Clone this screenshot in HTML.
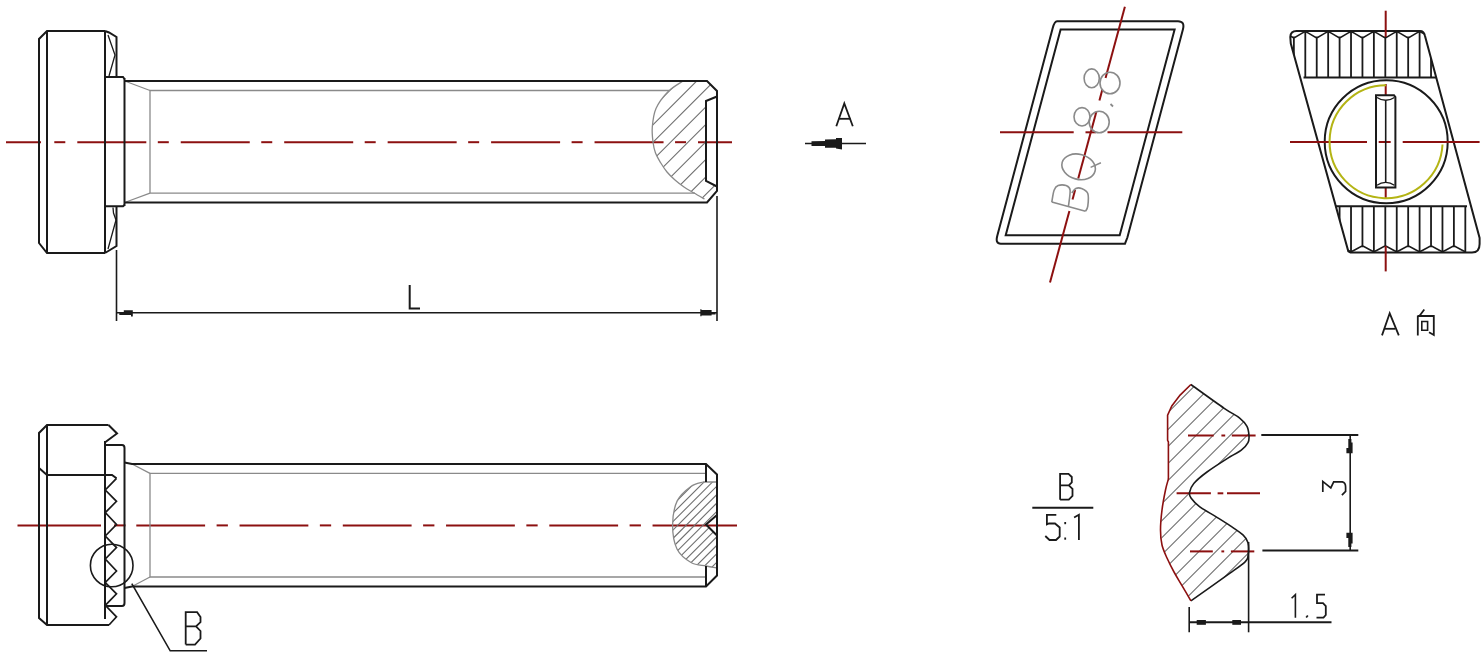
<!DOCTYPE html>
<html><head><meta charset="utf-8"><style>
html,body{margin:0;padding:0;background:#fff;width:1484px;height:657px;overflow:hidden;font-family:"Liberation Sans",sans-serif;}
svg{display:block;}
</style></head><body>
<svg width="1484" height="657" viewBox="0 0 1484 657" stroke-linecap="butt">
<rect width="1484" height="657" fill="#fff"/>
<line x1="6" y1="142.2" x2="41" y2="142.2" stroke="#8c1010" stroke-width="2" />
<line x1="54.3" y1="142.2" x2="65.3" y2="142.2" stroke="#8c1010" stroke-width="2" />
<line x1="77.3" y1="142.2" x2="146.3" y2="142.2" stroke="#8c1010" stroke-width="2" />
<line x1="157.8" y1="142.2" x2="168.8" y2="142.2" stroke="#8c1010" stroke-width="2" />
<line x1="180.75" y1="142.2" x2="249.75" y2="142.2" stroke="#8c1010" stroke-width="2" />
<line x1="261.25" y1="142.2" x2="272.25" y2="142.2" stroke="#8c1010" stroke-width="2" />
<line x1="284.2" y1="142.2" x2="353.2" y2="142.2" stroke="#8c1010" stroke-width="2" />
<line x1="364.7" y1="142.2" x2="375.7" y2="142.2" stroke="#8c1010" stroke-width="2" />
<line x1="387.65" y1="142.2" x2="456.65" y2="142.2" stroke="#8c1010" stroke-width="2" />
<line x1="468.15" y1="142.2" x2="479.15" y2="142.2" stroke="#8c1010" stroke-width="2" />
<line x1="491.09999999999997" y1="142.2" x2="560.0999999999999" y2="142.2" stroke="#8c1010" stroke-width="2" />
<line x1="571.5999999999999" y1="142.2" x2="582.5999999999999" y2="142.2" stroke="#8c1010" stroke-width="2" />
<line x1="594.55" y1="142.2" x2="663.55" y2="142.2" stroke="#8c1010" stroke-width="2" />
<line x1="675.05" y1="142.2" x2="686.05" y2="142.2" stroke="#8c1010" stroke-width="2" />
<line x1="698.0" y1="142.2" x2="732" y2="142.2" stroke="#8c1010" stroke-width="2" />
<clipPath id="ct"><path d="M683,81 C680.50,82.78 672.50,87.12 668,91.7 C663.50,96.28 658.62,102.62 656,108.5 C653.38,114.38 652.80,121.42 652.3,127 C651.80,132.58 652.47,137.67 653,142 C653.53,146.33 654.25,149.58 655.5,153 C656.75,156.42 658.58,159.33 660.5,162.5 C662.42,165.67 664.58,169.08 667,172 C669.42,174.92 672.17,177.50 675,180 C677.83,182.50 680.83,184.83 684,187 C687.17,189.17 690.58,191.00 694,193 C697.42,195.00 702.75,198.00 704.5,199 L707,202.5 L717,191 L717,186.5 L706,181 L706,101 L717,96.5 L717,91 L707,81 Z"/></clipPath>
<g clip-path="url(#ct)">
<line x1="497.70000000000005" y1="210" x2="632.7" y2="75" stroke="#6e6e6e" stroke-width="1.1"/>
<line x1="515.2" y1="210" x2="650.2" y2="75" stroke="#6e6e6e" stroke-width="1.1"/>
<line x1="532.7" y1="210" x2="667.7" y2="75" stroke="#6e6e6e" stroke-width="1.1"/>
<line x1="550.2" y1="210" x2="685.2" y2="75" stroke="#6e6e6e" stroke-width="1.1"/>
<line x1="567.7" y1="210" x2="702.7" y2="75" stroke="#6e6e6e" stroke-width="1.1"/>
<line x1="585.2" y1="210" x2="720.2" y2="75" stroke="#6e6e6e" stroke-width="1.1"/>
<line x1="602.7" y1="210" x2="737.7" y2="75" stroke="#6e6e6e" stroke-width="1.1"/>
<line x1="620.2" y1="210" x2="755.2" y2="75" stroke="#6e6e6e" stroke-width="1.1"/>
<line x1="637.7" y1="210" x2="772.7" y2="75" stroke="#6e6e6e" stroke-width="1.1"/>
<line x1="655.2" y1="210" x2="790.2" y2="75" stroke="#6e6e6e" stroke-width="1.1"/>
<line x1="672.7" y1="210" x2="807.7" y2="75" stroke="#6e6e6e" stroke-width="1.1"/>
<line x1="690.2" y1="210" x2="825.2" y2="75" stroke="#6e6e6e" stroke-width="1.1"/>
<line x1="707.7" y1="210" x2="842.7" y2="75" stroke="#6e6e6e" stroke-width="1.1"/>
<line x1="725.2" y1="210" x2="860.2" y2="75" stroke="#6e6e6e" stroke-width="1.1"/>
</g>
<path d="M683,81 C680.50,82.78 672.50,87.12 668,91.7 C663.50,96.28 658.62,102.62 656,108.5 C653.38,114.38 652.80,121.42 652.3,127 C651.80,132.58 652.47,137.67 653,142 C653.53,146.33 654.25,149.58 655.5,153 C656.75,156.42 658.58,159.33 660.5,162.5 C662.42,165.67 664.58,169.08 667,172 C669.42,174.92 672.17,177.50 675,180 C677.83,182.50 680.83,184.83 684,187 C687.17,189.17 690.58,191.00 694,193 C697.42,195.00 702.75,198.00 704.5,199" fill="none" stroke="#8a8a8a" stroke-width="1.3" />
<path d="M669,90.5 L150,90.5 L150,193.2 L695,193.2" fill="none" stroke="#8a8a8a" stroke-width="1.3" stroke-linejoin="miter" />
<line x1="126" y1="81.5" x2="150" y2="90.5" stroke="#8a8a8a" stroke-width="1.3" />
<line x1="126" y1="202" x2="150" y2="193.2" stroke="#8a8a8a" stroke-width="1.3" />
<path d="M105,31 L47,31 L39,39 L39,243 L47,253 L105,253" fill="none" stroke="#1a1a1a" stroke-width="2" stroke-linejoin="miter" />
<line x1="47" y1="31" x2="47" y2="253" stroke="#1a1a1a" stroke-width="2" />
<line x1="105" y1="31" x2="105" y2="253" stroke="#1a1a1a" stroke-width="2" />
<path d="M105,31 L109,32.5 L116.5,37 L116.5,76" fill="none" stroke="#1a1a1a" stroke-width="2" stroke-linejoin="miter" />
<path d="M108,35 L115,55 L109,76" fill="none" stroke="#1a1a1a" stroke-width="1.3" stroke-linejoin="miter" />
<path d="M105,77 L123,77 L124.5,79" fill="none" stroke="#1a1a1a" stroke-width="2" stroke-linejoin="miter" />
<line x1="124.5" y1="78" x2="124.5" y2="206" stroke="#1a1a1a" stroke-width="2" />
<path d="M105,206.3 L123,206.3 L124.5,205" fill="none" stroke="#1a1a1a" stroke-width="2" stroke-linejoin="miter" />
<path d="M116.5,207 L116.5,246 L105,253" fill="none" stroke="#1a1a1a" stroke-width="2" stroke-linejoin="miter" />
<path d="M113,207.5 L113.5,213 L116,220 L108,249" fill="none" stroke="#1a1a1a" stroke-width="1.3" stroke-linejoin="miter" />
<path d="M124.5,81 L707,81 L717,91 L717,191 L707,202.5 L124.5,202.5" fill="none" stroke="#1a1a1a" stroke-width="2" stroke-linejoin="miter" />
<path d="M717,96.5 L706,101 L706,181 L717,186.5" fill="none" stroke="#1a1a1a" stroke-width="2" stroke-linejoin="miter" />
<line x1="116.5" y1="250" x2="116.5" y2="321" stroke="#1a1a1a" stroke-width="1.6" />
<line x1="717" y1="196" x2="717" y2="321" stroke="#1a1a1a" stroke-width="1.6" />
<line x1="116.5" y1="312.8" x2="717" y2="312.8" stroke="#1a1a1a" stroke-width="1.6" />
<path d="M119.3,312 L123.8,312 L123.8,310.3 L132.8,310.3 L132.8,316.5 L131,316.5 L131,315 L119.3,315 Z" fill="#1a1a1a" stroke="#1a1a1a" stroke-width="0" />
<path d="M700.3,309.2 L701.5,309.2 L701.5,310.1 L711.6,310.1 L711.6,312 L715.5,312 L715.5,314.5 L711.6,314.5 L711.6,315.5 L701.5,315.5 L701.5,316.3 L700.3,316.3 Z" fill="#1a1a1a" stroke="#1a1a1a" stroke-width="0" />
<path d="M409.7,285 L409.7,308.5 L420,308.5" fill="none" stroke="#1a1a1a" stroke-width="2" stroke-linejoin="miter" />
<line x1="805" y1="143.5" x2="866" y2="143.5" stroke="#1a1a1a" stroke-width="1.6" />
<path d="M811.5,141.2 L825,141 L825,139.5 L836,139.3 L836,138 L842,138 L842,149.5 L836,148.5 L836,147.8 L825,147.8 L825,146 L811.5,146 Z" fill="#1a1a1a" stroke="#1a1a1a" stroke-width="0" />
<path d="M836.3,126.2 L844.3,103.5 L852.8,126.2" fill="none" stroke="#1a1a1a" stroke-width="1.8" stroke-linejoin="miter" />
<line x1="839.2" y1="118.8" x2="850.5" y2="118.8" stroke="#1a1a1a" stroke-width="1.8" />
<line x1="17.5" y1="525.4" x2="101" y2="525.4" stroke="#8c1010" stroke-width="2" />
<line x1="114" y1="525.4" x2="125.5" y2="525.4" stroke="#8c1010" stroke-width="2" />
<line x1="136.3" y1="525.4" x2="205.10000000000002" y2="525.4" stroke="#8c1010" stroke-width="2" />
<line x1="216.60000000000002" y1="525.4" x2="227.9" y2="525.4" stroke="#8c1010" stroke-width="2" />
<line x1="239.55" y1="525.4" x2="308.35" y2="525.4" stroke="#8c1010" stroke-width="2" />
<line x1="319.85" y1="525.4" x2="331.15" y2="525.4" stroke="#8c1010" stroke-width="2" />
<line x1="342.8" y1="525.4" x2="411.6" y2="525.4" stroke="#8c1010" stroke-width="2" />
<line x1="423.1" y1="525.4" x2="434.4" y2="525.4" stroke="#8c1010" stroke-width="2" />
<line x1="446.05" y1="525.4" x2="514.85" y2="525.4" stroke="#8c1010" stroke-width="2" />
<line x1="526.35" y1="525.4" x2="537.65" y2="525.4" stroke="#8c1010" stroke-width="2" />
<line x1="549.3" y1="525.4" x2="618.0999999999999" y2="525.4" stroke="#8c1010" stroke-width="2" />
<line x1="629.5999999999999" y1="525.4" x2="640.9" y2="525.4" stroke="#8c1010" stroke-width="2" />
<line x1="652.55" y1="525.4" x2="737" y2="525.4" stroke="#8c1010" stroke-width="2" />
<clipPath id="cb"><path d="M703,482 C700.98,482.73 695.20,483.25 690.9,486.4 C686.60,489.55 680.25,494.43 677.2,500.9 C674.15,507.37 672.63,517.18 672.6,525.2 C672.57,533.22 673.93,542.78 677,549 C680.07,555.22 686.17,559.67 691,562.5 C695.83,565.33 701.67,565.08 706,566 C710.33,566.92 715.17,567.67 717,568 L717,535.5 L706,524.5 L717,515 L717,482 Z"/></clipPath>
<g clip-path="url(#cb)">
<line x1="551.9000000000001" y1="575" x2="651.9000000000001" y2="475" stroke="#6e6e6e" stroke-width="1.1"/>
<line x1="560.3500000000001" y1="575" x2="660.3500000000001" y2="475" stroke="#6e6e6e" stroke-width="1.1"/>
<line x1="568.8000000000002" y1="575" x2="668.8000000000002" y2="475" stroke="#6e6e6e" stroke-width="1.1"/>
<line x1="577.2500000000002" y1="575" x2="677.2500000000002" y2="475" stroke="#6e6e6e" stroke-width="1.1"/>
<line x1="585.7000000000003" y1="575" x2="685.7000000000003" y2="475" stroke="#6e6e6e" stroke-width="1.1"/>
<line x1="594.1500000000003" y1="575" x2="694.1500000000003" y2="475" stroke="#6e6e6e" stroke-width="1.1"/>
<line x1="602.6000000000004" y1="575" x2="702.6000000000004" y2="475" stroke="#6e6e6e" stroke-width="1.1"/>
<line x1="611.0500000000004" y1="575" x2="711.0500000000004" y2="475" stroke="#6e6e6e" stroke-width="1.1"/>
<line x1="619.5000000000005" y1="575" x2="719.5000000000005" y2="475" stroke="#6e6e6e" stroke-width="1.1"/>
<line x1="627.9500000000005" y1="575" x2="727.9500000000005" y2="475" stroke="#6e6e6e" stroke-width="1.1"/>
<line x1="636.4000000000005" y1="575" x2="736.4000000000005" y2="475" stroke="#6e6e6e" stroke-width="1.1"/>
<line x1="644.8500000000006" y1="575" x2="744.8500000000006" y2="475" stroke="#6e6e6e" stroke-width="1.1"/>
<line x1="653.3000000000006" y1="575" x2="753.3000000000006" y2="475" stroke="#6e6e6e" stroke-width="1.1"/>
<line x1="661.7500000000007" y1="575" x2="761.7500000000007" y2="475" stroke="#6e6e6e" stroke-width="1.1"/>
<line x1="670.2000000000007" y1="575" x2="770.2000000000007" y2="475" stroke="#6e6e6e" stroke-width="1.1"/>
<line x1="678.6500000000008" y1="575" x2="778.6500000000008" y2="475" stroke="#6e6e6e" stroke-width="1.1"/>
<line x1="687.1000000000008" y1="575" x2="787.1000000000008" y2="475" stroke="#6e6e6e" stroke-width="1.1"/>
<line x1="695.5500000000009" y1="575" x2="795.5500000000009" y2="475" stroke="#6e6e6e" stroke-width="1.1"/>
<line x1="704.0000000000009" y1="575" x2="804.0000000000009" y2="475" stroke="#6e6e6e" stroke-width="1.1"/>
<line x1="712.450000000001" y1="575" x2="812.450000000001" y2="475" stroke="#6e6e6e" stroke-width="1.1"/>
<line x1="720.900000000001" y1="575" x2="820.900000000001" y2="475" stroke="#6e6e6e" stroke-width="1.1"/>
</g>
<path d="M703,482 C700.98,482.73 695.20,483.25 690.9,486.4 C686.60,489.55 680.25,494.43 677.2,500.9 C674.15,507.37 672.63,517.18 672.6,525.2 C672.57,533.22 673.93,542.78 677,549 C680.07,555.22 686.17,559.67 691,562.5 C695.83,565.33 701.67,565.08 706,566 C710.33,566.92 715.17,567.67 717,568 L717,482 L703,482" fill="none" stroke="#8a8a8a" stroke-width="1.3" />
<path d="M706,473.4 L150,473.4 L150,577 L706,577" fill="none" stroke="#8a8a8a" stroke-width="1.3" stroke-linejoin="miter" />
<line x1="132" y1="464" x2="150" y2="473.4" stroke="#8a8a8a" stroke-width="1.3" />
<line x1="132" y1="586.5" x2="150" y2="577" stroke="#8a8a8a" stroke-width="1.3" />
<path d="M108.5,425 L47,425 L39,433 L39,618 L47,625 L109,625" fill="none" stroke="#1a1a1a" stroke-width="2" stroke-linejoin="miter" />
<line x1="47" y1="425" x2="47" y2="625" stroke="#1a1a1a" stroke-width="2" />
<line x1="39" y1="468" x2="47" y2="475" stroke="#1a1a1a" stroke-width="2" />
<path d="M47,475 L112,475 L116.5,478.3" fill="none" stroke="#1a1a1a" stroke-width="2" stroke-linejoin="miter" />
<path d="M108.5,425 L117,433.5 L105.5,442" fill="none" stroke="#1a1a1a" stroke-width="2" stroke-linejoin="miter" />
<line x1="105" y1="441" x2="105" y2="619" stroke="#1a1a1a" stroke-width="2" />
<path d="M116.5,478.3 L105.3,490 L116.5,501.3 L105.3,512.6 L116.5,524.5 L105.3,536 L116.5,547.6 L105.3,559 L116.5,571 L105.3,582.5 L116.5,593.8 L105.3,605.3 L116.5,616.8 L109,625" fill="none" stroke="#1a1a1a" stroke-width="1.7" stroke-linejoin="miter" />
<path d="M105,445 L122,445 Q124.5,445 124.5,448 L124.5,603 Q124.5,606 122,606 L105,606" fill="none" stroke="#1a1a1a" stroke-width="2" />
<path d="M124.5,462.5 L132,464 L706,464 L717,474.5 L717,575.5 L706,586.5 L132,586.5 L124.5,588" fill="none" stroke="#1a1a1a" stroke-width="2" stroke-linejoin="miter" />
<line x1="706" y1="464" x2="706" y2="482" stroke="#1a1a1a" stroke-width="2" />
<line x1="706" y1="566" x2="706" y2="586.5" stroke="#1a1a1a" stroke-width="2" />
<path d="M717,515 L706,524.5 L717,535.5" fill="none" stroke="#1a1a1a" stroke-width="2" stroke-linejoin="miter" />
<circle cx="111.7" cy="565.5" r="21.3" fill="none" stroke="#1a1a1a" stroke-width="1.6"/>
<path d="M131.8,583.6 L170.2,650.8 L207,650.8" fill="none" stroke="#1a1a1a" stroke-width="1.6" stroke-linejoin="miter" />
<path d="M185.7,644.6 V612.2 H197.1 L200.5,617 V622.1 L196,626.3 H185.7 M196,626.3 L200.5,631 V638.5 L195,644.6 H185.7" fill="none" stroke="#1a1a1a" stroke-width="1.8" />
<path d="M1060.6219,29.5 L1174.6219,29.5 L1119.7,235.2 L1005.7,235.2 Z" fill="none" stroke="#1a1a1a" stroke-width="2" stroke-linejoin="miter" />
<path d="M1057,21.3 L1178,21.3 Q1185.09,21.3 1182.90,29.5 L1127.37,237.5 L1125,243.7 L1000.7,243.7 Q995.15,243.7 997.29,235.7 L1052.66,28.3 Q1054.53,21.3 1057,21.3 Z" fill="none" stroke="#1a1a1a" stroke-width="2" />
<line x1="1124.9" y1="6.7" x2="1105.56" y2="77.9" stroke="#8c1010" stroke-width="2" />
<line x1="1102.38" y1="89.6" x2="1099.42" y2="100.5" stroke="#8c1010" stroke-width="2" />
<line x1="1096.29" y1="112.0" x2="1078.23" y2="178.5" stroke="#8c1010" stroke-width="2" />
<line x1="1075.1" y1="190.0" x2="1072.52" y2="199.5" stroke="#8c1010" stroke-width="2" />
<line x1="1069.4" y1="211.0" x2="1050.0" y2="282.4" stroke="#8c1010" stroke-width="2" />
<line x1="1000" y1="132.3" x2="1073.7" y2="132.3" stroke="#8c1010" stroke-width="2" />
<line x1="1085.5" y1="132.3" x2="1096" y2="132.3" stroke="#8c1010" stroke-width="2" />
<line x1="1107.5" y1="132.3" x2="1182.3" y2="132.3" stroke="#8c1010" stroke-width="2" />
<path d="M1051.8,202.1 L1085.5,211.3" fill="none" stroke="#8a8a8a" stroke-width="1.6" stroke-linejoin="miter" />
<path d="M1051.8,202.1 C1052.18,200.12 1053.05,192.95 1054.1,190.2 C1055.15,187.45 1056.10,186.37 1058.1,185.6 C1060.10,184.83 1064.10,184.83 1066.1,185.6 C1068.10,186.37 1069.72,186.68 1070.1,190.2 C1070.48,193.72 1068.68,203.95 1068.4,206.7" fill="none" stroke="#8a8a8a" stroke-width="1.6" />
<path d="M1071.8,193 C1072.47,192.25 1074.18,189.25 1075.8,188.5 C1077.42,187.75 1079.50,187.65 1081.5,188.5 C1083.50,189.35 1086.75,190.67 1087.8,193.6 C1088.85,196.53 1088.18,203.15 1087.8,206.1 C1087.42,209.05 1085.88,210.43 1085.5,211.3" fill="none" stroke="#8a8a8a" stroke-width="1.6" />
<ellipse cx="1078.6" cy="166.8" rx="17" ry="12.5" transform="rotate(15 1078.6 166.8)" fill="none" stroke="#8a8a8a" stroke-width="1.6"/>
<line x1="1090.6" y1="167.4" x2="1100.9" y2="162.8" stroke="#8a8a8a" stroke-width="1.5" />
<ellipse cx="1082" cy="116.8" rx="8" ry="9.2" fill="none" stroke="#8a8a8a" stroke-width="1.6"/>
<ellipse cx="1099.2" cy="122" rx="10" ry="10.8" fill="none" stroke="#8a8a8a" stroke-width="1.6"/>
<line x1="1110.5" y1="104" x2="1113" y2="106.5" stroke="#8a8a8a" stroke-width="1.8" />
<ellipse cx="1091.7" cy="78.3" rx="7.6" ry="9.4" fill="none" stroke="#8a8a8a" stroke-width="1.6"/>
<ellipse cx="1110" cy="83" rx="10" ry="10.8" fill="none" stroke="#8a8a8a" stroke-width="1.6"/>
<clipPath id="ca"><path d="M1296.5,31 L1420,31 Q1424,31 1425,36 L1479.6,238 L1479.6,244 Q1479.6,252.6 1472,252.6 L1350.5,252.6 L1348.3,251.3 L1290.8,43.5 L1290.3,37 Q1290.5,31 1296.5,31 Z"/></clipPath>
<path d="M1296.5,31 L1420,31 Q1424,31 1425,36 L1479.6,238 L1479.6,244 Q1479.6,252.6 1472,252.6 L1350.5,252.6 L1348.3,251.3 L1290.8,43.5 L1290.3,37 Q1290.5,31 1296.5,31 Z" fill="none" stroke="#1a1a1a" stroke-width="2" />
<line x1="1303.5" y1="77.5" x2="1436" y2="77.5" stroke="#1a1a1a" stroke-width="2" />
<line x1="1335" y1="206.3" x2="1467" y2="206.3" stroke="#1a1a1a" stroke-width="2" />
<g clip-path="url(#ca)">
<line x1="1293.87" y1="37.5" x2="1293.87" y2="77.5" stroke="#1a1a1a" stroke-width="1.8" />
<path d="M1282.44,31.5 L1285.57,33.1 L1292.87,37.4 L1294.87,37.4 L1302.17,33.1 L1305.30,31.5" fill="none" stroke="#1a1a1a" stroke-width="1.6" />
<line x1="1305.3" y1="31" x2="1305.3" y2="77.5" stroke="#1a1a1a" stroke-width="1.8" />
<line x1="1316.73" y1="37.5" x2="1316.73" y2="77.5" stroke="#1a1a1a" stroke-width="1.8" />
<path d="M1305.30,31.5 L1308.43,33.1 L1315.73,37.4 L1317.73,37.4 L1325.03,33.1 L1328.16,31.5" fill="none" stroke="#1a1a1a" stroke-width="1.6" />
<line x1="1328.16" y1="31" x2="1328.16" y2="77.5" stroke="#1a1a1a" stroke-width="1.8" />
<line x1="1339.59" y1="37.5" x2="1339.59" y2="77.5" stroke="#1a1a1a" stroke-width="1.8" />
<path d="M1328.16,31.5 L1331.29,33.1 L1338.59,37.4 L1340.59,37.4 L1347.89,33.1 L1351.02,31.5" fill="none" stroke="#1a1a1a" stroke-width="1.6" />
<line x1="1351.02" y1="31" x2="1351.02" y2="77.5" stroke="#1a1a1a" stroke-width="1.8" />
<line x1="1362.45" y1="37.5" x2="1362.45" y2="77.5" stroke="#1a1a1a" stroke-width="1.8" />
<path d="M1351.02,31.5 L1354.15,33.1 L1361.45,37.4 L1363.45,37.4 L1370.75,33.1 L1373.88,31.5" fill="none" stroke="#1a1a1a" stroke-width="1.6" />
<line x1="1373.88" y1="31" x2="1373.88" y2="77.5" stroke="#1a1a1a" stroke-width="1.8" />
<line x1="1385.31" y1="37.5" x2="1385.31" y2="77.5" stroke="#1a1a1a" stroke-width="1.8" />
<path d="M1373.88,31.5 L1377.01,33.1 L1384.31,37.4 L1386.31,37.4 L1393.61,33.1 L1396.74,31.5" fill="none" stroke="#1a1a1a" stroke-width="1.6" />
<line x1="1396.74" y1="31" x2="1396.74" y2="77.5" stroke="#1a1a1a" stroke-width="1.8" />
<line x1="1408.17" y1="37.5" x2="1408.17" y2="77.5" stroke="#1a1a1a" stroke-width="1.8" />
<path d="M1396.74,31.5 L1399.87,33.1 L1407.17,37.4 L1409.17,37.4 L1416.47,33.1 L1419.60,31.5" fill="none" stroke="#1a1a1a" stroke-width="1.6" />
<line x1="1419.6" y1="31" x2="1419.6" y2="77.5" stroke="#1a1a1a" stroke-width="1.8" />
<line x1="1431.03" y1="37.5" x2="1431.03" y2="77.5" stroke="#1a1a1a" stroke-width="1.8" />
<path d="M1419.60,31.5 L1422.73,33.1 L1430.03,37.4 L1432.03,37.4 L1439.33,33.1 L1442.46,31.5" fill="none" stroke="#1a1a1a" stroke-width="1.6" />
<line x1="1339.59" y1="206.3" x2="1339.59" y2="246.3" stroke="#1a1a1a" stroke-width="1.8" />
<path d="M1328.16,251.8 L1331.29,250.2 L1338.59,246.4 L1340.59,246.4 L1347.89,250.2 L1351.02,251.8" fill="none" stroke="#1a1a1a" stroke-width="1.6" />
<line x1="1351.02" y1="206.3" x2="1351.02" y2="252.3" stroke="#1a1a1a" stroke-width="1.8" />
<line x1="1362.45" y1="206.3" x2="1362.45" y2="246.3" stroke="#1a1a1a" stroke-width="1.8" />
<path d="M1351.02,251.8 L1354.15,250.2 L1361.45,246.4 L1363.45,246.4 L1370.75,250.2 L1373.88,251.8" fill="none" stroke="#1a1a1a" stroke-width="1.6" />
<line x1="1373.88" y1="206.3" x2="1373.88" y2="252.3" stroke="#1a1a1a" stroke-width="1.8" />
<line x1="1385.31" y1="206.3" x2="1385.31" y2="246.3" stroke="#1a1a1a" stroke-width="1.8" />
<path d="M1373.88,251.8 L1377.01,250.2 L1384.31,246.4 L1386.31,246.4 L1393.61,250.2 L1396.74,251.8" fill="none" stroke="#1a1a1a" stroke-width="1.6" />
<line x1="1396.74" y1="206.3" x2="1396.74" y2="252.3" stroke="#1a1a1a" stroke-width="1.8" />
<line x1="1408.17" y1="206.3" x2="1408.17" y2="246.3" stroke="#1a1a1a" stroke-width="1.8" />
<path d="M1396.74,251.8 L1399.87,250.2 L1407.17,246.4 L1409.17,246.4 L1416.47,250.2 L1419.60,251.8" fill="none" stroke="#1a1a1a" stroke-width="1.6" />
<line x1="1419.6" y1="206.3" x2="1419.6" y2="252.3" stroke="#1a1a1a" stroke-width="1.8" />
<line x1="1431.03" y1="206.3" x2="1431.03" y2="246.3" stroke="#1a1a1a" stroke-width="1.8" />
<path d="M1419.60,251.8 L1422.73,250.2 L1430.03,246.4 L1432.03,246.4 L1439.33,250.2 L1442.46,251.8" fill="none" stroke="#1a1a1a" stroke-width="1.6" />
<line x1="1442.46" y1="206.3" x2="1442.46" y2="252.3" stroke="#1a1a1a" stroke-width="1.8" />
<line x1="1453.89" y1="206.3" x2="1453.89" y2="246.3" stroke="#1a1a1a" stroke-width="1.8" />
<path d="M1442.46,251.8 L1445.59,250.2 L1452.89,246.4 L1454.89,246.4 L1462.19,250.2 L1465.32,251.8" fill="none" stroke="#1a1a1a" stroke-width="1.6" />
<line x1="1465.32" y1="206.3" x2="1465.32" y2="252.3" stroke="#1a1a1a" stroke-width="1.8" />
</g>
<circle cx="1386.2" cy="141.8" r="61.5" fill="none" stroke="#1a1a1a" stroke-width="2"/>
<line x1="1290" y1="142" x2="1367" y2="142" stroke="#8c1010" stroke-width="2" />
<line x1="1378.7" y1="142" x2="1390.7" y2="142" stroke="#8c1010" stroke-width="2" />
<line x1="1402.7" y1="142" x2="1479.6" y2="142" stroke="#8c1010" stroke-width="2" />
<line x1="1385.7" y1="10.7" x2="1385.7" y2="37" stroke="#8c1010" stroke-width="2" />
<line x1="1385.7" y1="84" x2="1385.7" y2="95" stroke="#8c1010" stroke-width="2" />
<line x1="1385.7" y1="187.5" x2="1385.7" y2="199" stroke="#8c1010" stroke-width="2" />
<line x1="1385.7" y1="246" x2="1385.7" y2="271.4" stroke="#8c1010" stroke-width="2" />
<path d="M1386,85.2 A56.5,56.5 0 1,0 1442.5,144.5" fill="none" stroke="#b4b414" stroke-width="2" />
<path d="M1376,95.3 L1394,95.3 L1395.4,97 L1395.4,187.4 L1376,187.4 Z" fill="none" stroke="#1a1a1a" stroke-width="2" stroke-linejoin="miter" />
<line x1="1385.7" y1="100.3" x2="1385.7" y2="182.4" stroke="#1a1a1a" stroke-width="1.6" />
<path d="M1377,97.5 Q1381,100.3 1385.7,100.3 Q1390.4,100.3 1394.4,97.5" fill="none" stroke="#1a1a1a" stroke-width="1.4" />
<path d="M1377,185.3 Q1381,182.4 1385.7,182.4 Q1390.4,182.4 1394.4,185.3" fill="none" stroke="#1a1a1a" stroke-width="1.4" />
<path d="M1382,335.4 L1389.7,313.3 L1398.8,335.4" fill="none" stroke="#1a1a1a" stroke-width="1.8" stroke-linejoin="miter" />
<line x1="1384.7" y1="328.8" x2="1395.3" y2="328.8" stroke="#1a1a1a" stroke-width="1.8" />
<line x1="1417.8" y1="315.5" x2="1417.8" y2="335.5" stroke="#1a1a1a" stroke-width="1.8" />
<path d="M1417.8,316 L1433.8,316 L1433.8,335 L1429,332.3" fill="none" stroke="#1a1a1a" stroke-width="1.8" stroke-linejoin="miter" />
<line x1="1424.3" y1="309.5" x2="1419" y2="316.5" stroke="#1a1a1a" stroke-width="1.8" />
<path d="M1421.8,321.5 L1427.6,321.5 L1427.6,330.2 L1421.8,330.2 Z" fill="none" stroke="#1a1a1a" stroke-width="1.6" stroke-linejoin="miter" />
<path d="M1060.1,499.7 V473.8 H1068.5 L1071.8,477 V482.3 L1068.8,485.3 H1060.1 M1068.8,485.3 L1072.5,488.8 V495.8 L1068.8,499.7 H1060.1" fill="none" stroke="#1a1a1a" stroke-width="1.8" />
<line x1="1032.3" y1="507.7" x2="1093.3" y2="507.7" stroke="#1a1a1a" stroke-width="2" />
<path d="M1056.3,514.8 H1046.9 V524.4 L1049,523.5 H1055 L1059.7,527.5 V536.5 L1056,540 H1049.5 L1045.3,536" fill="none" stroke="#1a1a1a" stroke-width="1.8" />
<line x1="1065.2" y1="522" x2="1065.2" y2="524.2" stroke="#1a1a1a" stroke-width="1.8" />
<line x1="1065.2" y1="537.5" x2="1065.2" y2="539.7" stroke="#1a1a1a" stroke-width="1.8" />
<path d="M1074.1,517.5 L1078.9,514.8 L1078.9,540" fill="none" stroke="#1a1a1a" stroke-width="1.8" stroke-linejoin="miter" />
<clipPath id="cd"><path d="M1190.9,384.5 C1196.45,388.47 1216.12,402.75 1224.2,408.3 C1232.28,413.85 1235.60,414.78 1239.4,417.8 C1243.20,420.82 1245.40,423.38 1247,426.4 C1248.60,429.42 1248.83,433.20 1249,435.9 C1249.17,438.60 1249.28,440.22 1248,442.6 C1246.72,444.98 1244.30,447.83 1241.3,450.2 C1238.30,452.57 1235.72,453.17 1230,456.8 C1224.28,460.43 1213.03,467.55 1207,472 C1200.97,476.45 1196.72,480.08 1193.8,483.5 C1190.88,486.92 1189.97,490.08 1189.5,492.5 C1189.03,494.92 1189.33,495.65 1191,498 C1192.67,500.35 1195.23,503.42 1199.5,506.6 C1203.77,509.78 1211.52,513.92 1216.6,517.1 C1221.68,520.28 1225.57,522.68 1230,525.7 C1234.43,528.72 1240.20,532.35 1243.2,535.2 C1246.20,538.05 1247.20,539.32 1248,542.8 C1248.80,546.28 1248.48,552.93 1248,556.1 C1247.52,559.27 1248.10,558.95 1245.1,561.8 C1242.10,564.65 1239.03,566.70 1230,573.2 C1220.97,579.70 1197.42,596.20 1190.9,600.8 L1190.9,600.8 L1182,585.6 L1174,572 L1167,558 L1162,545 L1160.5,530 L1162,510 L1165.5,490 L1168.4,478.9 L1168.4,442 L1167.6,440.3 L1167.6,415.2 L1171.8,406 L1180.1,395.1 L1190.9,384.5 Z"/></clipPath>
<g clip-path="url(#cd)">
<line x1="924.5" y1="605" x2="1149.5" y2="380" stroke="#6e6e6e" stroke-width="1.1"/>
<line x1="941.5" y1="605" x2="1166.5" y2="380" stroke="#6e6e6e" stroke-width="1.1"/>
<line x1="958.5" y1="605" x2="1183.5" y2="380" stroke="#6e6e6e" stroke-width="1.1"/>
<line x1="975.5" y1="605" x2="1200.5" y2="380" stroke="#6e6e6e" stroke-width="1.1"/>
<line x1="992.5" y1="605" x2="1217.5" y2="380" stroke="#6e6e6e" stroke-width="1.1"/>
<line x1="1009.5" y1="605" x2="1234.5" y2="380" stroke="#6e6e6e" stroke-width="1.1"/>
<line x1="1026.5" y1="605" x2="1251.5" y2="380" stroke="#6e6e6e" stroke-width="1.1"/>
<line x1="1043.5" y1="605" x2="1268.5" y2="380" stroke="#6e6e6e" stroke-width="1.1"/>
<line x1="1060.5" y1="605" x2="1285.5" y2="380" stroke="#6e6e6e" stroke-width="1.1"/>
<line x1="1077.5" y1="605" x2="1302.5" y2="380" stroke="#6e6e6e" stroke-width="1.1"/>
<line x1="1094.5" y1="605" x2="1319.5" y2="380" stroke="#6e6e6e" stroke-width="1.1"/>
<line x1="1111.5" y1="605" x2="1336.5" y2="380" stroke="#6e6e6e" stroke-width="1.1"/>
<line x1="1128.5" y1="605" x2="1353.5" y2="380" stroke="#6e6e6e" stroke-width="1.1"/>
<line x1="1145.5" y1="605" x2="1370.5" y2="380" stroke="#6e6e6e" stroke-width="1.1"/>
<line x1="1162.5" y1="605" x2="1387.5" y2="380" stroke="#6e6e6e" stroke-width="1.1"/>
<line x1="1179.5" y1="605" x2="1404.5" y2="380" stroke="#6e6e6e" stroke-width="1.1"/>
<line x1="1196.5" y1="605" x2="1421.5" y2="380" stroke="#6e6e6e" stroke-width="1.1"/>
<line x1="1213.5" y1="605" x2="1438.5" y2="380" stroke="#6e6e6e" stroke-width="1.1"/>
<line x1="1230.5" y1="605" x2="1455.5" y2="380" stroke="#6e6e6e" stroke-width="1.1"/>
<line x1="1247.5" y1="605" x2="1472.5" y2="380" stroke="#6e6e6e" stroke-width="1.1"/>
<line x1="1264.5" y1="605" x2="1489.5" y2="380" stroke="#6e6e6e" stroke-width="1.1"/>
</g>
<line x1="1188" y1="435.5" x2="1213.7" y2="435.5" stroke="#8c1010" stroke-width="2" />
<line x1="1221.4" y1="435.5" x2="1225.2" y2="435.5" stroke="#8c1010" stroke-width="2" />
<line x1="1231.8" y1="435.5" x2="1255.6" y2="435.5" stroke="#8c1010" stroke-width="2" />
<line x1="1176.6" y1="493.3" x2="1210.9" y2="493.3" stroke="#8c1010" stroke-width="2" />
<line x1="1217.6" y1="493.3" x2="1223.3" y2="493.3" stroke="#8c1010" stroke-width="2" />
<line x1="1227" y1="493.3" x2="1260" y2="493.3" stroke="#8c1010" stroke-width="2" />
<line x1="1190" y1="551.4" x2="1212.8" y2="551.4" stroke="#8c1010" stroke-width="2" />
<line x1="1221.4" y1="551.4" x2="1224.2" y2="551.4" stroke="#8c1010" stroke-width="2" />
<line x1="1230.9" y1="551.4" x2="1254.3" y2="551.4" stroke="#8c1010" stroke-width="2" />
<path d="M1190.9,384.5 C1196.45,388.47 1216.12,402.75 1224.2,408.3 C1232.28,413.85 1235.60,414.78 1239.4,417.8 C1243.20,420.82 1245.40,423.38 1247,426.4 C1248.60,429.42 1248.83,433.20 1249,435.9 C1249.17,438.60 1249.28,440.22 1248,442.6 C1246.72,444.98 1244.30,447.83 1241.3,450.2 C1238.30,452.57 1235.72,453.17 1230,456.8 C1224.28,460.43 1213.03,467.55 1207,472 C1200.97,476.45 1196.72,480.08 1193.8,483.5 C1190.88,486.92 1189.97,490.08 1189.5,492.5 C1189.03,494.92 1189.33,495.65 1191,498 C1192.67,500.35 1195.23,503.42 1199.5,506.6 C1203.77,509.78 1211.52,513.92 1216.6,517.1 C1221.68,520.28 1225.57,522.68 1230,525.7 C1234.43,528.72 1240.20,532.35 1243.2,535.2 C1246.20,538.05 1247.20,539.32 1248,542.8 C1248.80,546.28 1248.48,552.93 1248,556.1 C1247.52,559.27 1248.10,558.95 1245.1,561.8 C1242.10,564.65 1239.03,566.70 1230,573.2 C1220.97,579.70 1197.42,596.20 1190.9,600.8" fill="none" stroke="#1a1a1a" stroke-width="1.6" />
<path d="M1190.9,384.5 L1180.1,395.1 L1171.8,406 L1167.6,415.2 L1167.6,440.3 L1168.4,442 L1168.4,478.9" fill="none" stroke="#8c1010" stroke-width="1.6" stroke-linejoin="miter" />
<path d="M1168.4,478.9 C1167.92,480.75 1166.57,484.82 1165.5,490 C1164.43,495.18 1162.83,503.33 1162,510 C1161.17,516.67 1160.50,524.17 1160.5,530 C1160.50,535.83 1160.92,540.33 1162,545 C1163.08,549.67 1165.00,553.50 1167,558 C1169.00,562.50 1171.50,567.40 1174,572 C1176.50,576.60 1179.18,580.80 1182,585.6 C1184.82,590.40 1189.42,598.27 1190.9,600.8" fill="none" stroke="#8c1010" stroke-width="1.6" />
<line x1="1261.3" y1="434.9" x2="1358.3" y2="434.9" stroke="#1a1a1a" stroke-width="2" />
<line x1="1262.4" y1="550.6" x2="1358.3" y2="550.6" stroke="#1a1a1a" stroke-width="2" />
<line x1="1350.2" y1="435" x2="1350.2" y2="550.6" stroke="#1a1a1a" stroke-width="1.6" />
<path d="M1348.3,439.1 L1351.4,439.1 L1351.4,442.5 L1352.6,442.5 L1352.6,453.3 L1346.4,453.3 L1346.4,448 L1348.3,448 Z" fill="#1a1a1a" stroke="#1a1a1a" stroke-width="0" />
<path d="M1346.4,532.8 L1352.6,532.8 L1352.6,543.5 L1351.4,543.5 L1351.4,546.9 L1348.3,546.9 L1348.3,538 L1346.4,538 Z" fill="#1a1a1a" stroke="#1a1a1a" stroke-width="0" />
<path d="M1322.8,492 L1322.8,481.4 L1330.8,487.8 L1333.7,481.8 L1342.4,481.8 Q1345.6,482.5 1345.6,487 L1345.6,491.4 L1341.9,495.1" fill="none" stroke="#1a1a1a" stroke-width="1.7" />
<line x1="1248.6" y1="542" x2="1248.6" y2="632.3" stroke="#1a1a1a" stroke-width="1.6" />
<line x1="1189.2" y1="607" x2="1189.2" y2="632.3" stroke="#1a1a1a" stroke-width="1.6" />
<line x1="1189.2" y1="622.3" x2="1331.5" y2="622.3" stroke="#1a1a1a" stroke-width="2" />
<rect x="1196.7" y="620" width="9.2" height="4.8" fill="#1a1a1a"/>
<rect x="1232.3" y="620" width="8.7" height="4.8" fill="#1a1a1a"/>
<path d="M1291.6,598.3 L1295.4,594.6 L1295.4,617.7" fill="none" stroke="#1a1a1a" stroke-width="1.6" stroke-linejoin="miter" />
<line x1="1306.2" y1="617.5" x2="1307.8" y2="615.5" stroke="#1a1a1a" stroke-width="1.8" />
<path d="M1325,594.6 H1317 V603.2 H1323 L1325.8,606 V615 L1323.5,617.7 H1316.5" fill="none" stroke="#1a1a1a" stroke-width="1.8" />
</svg>
</body></html>
